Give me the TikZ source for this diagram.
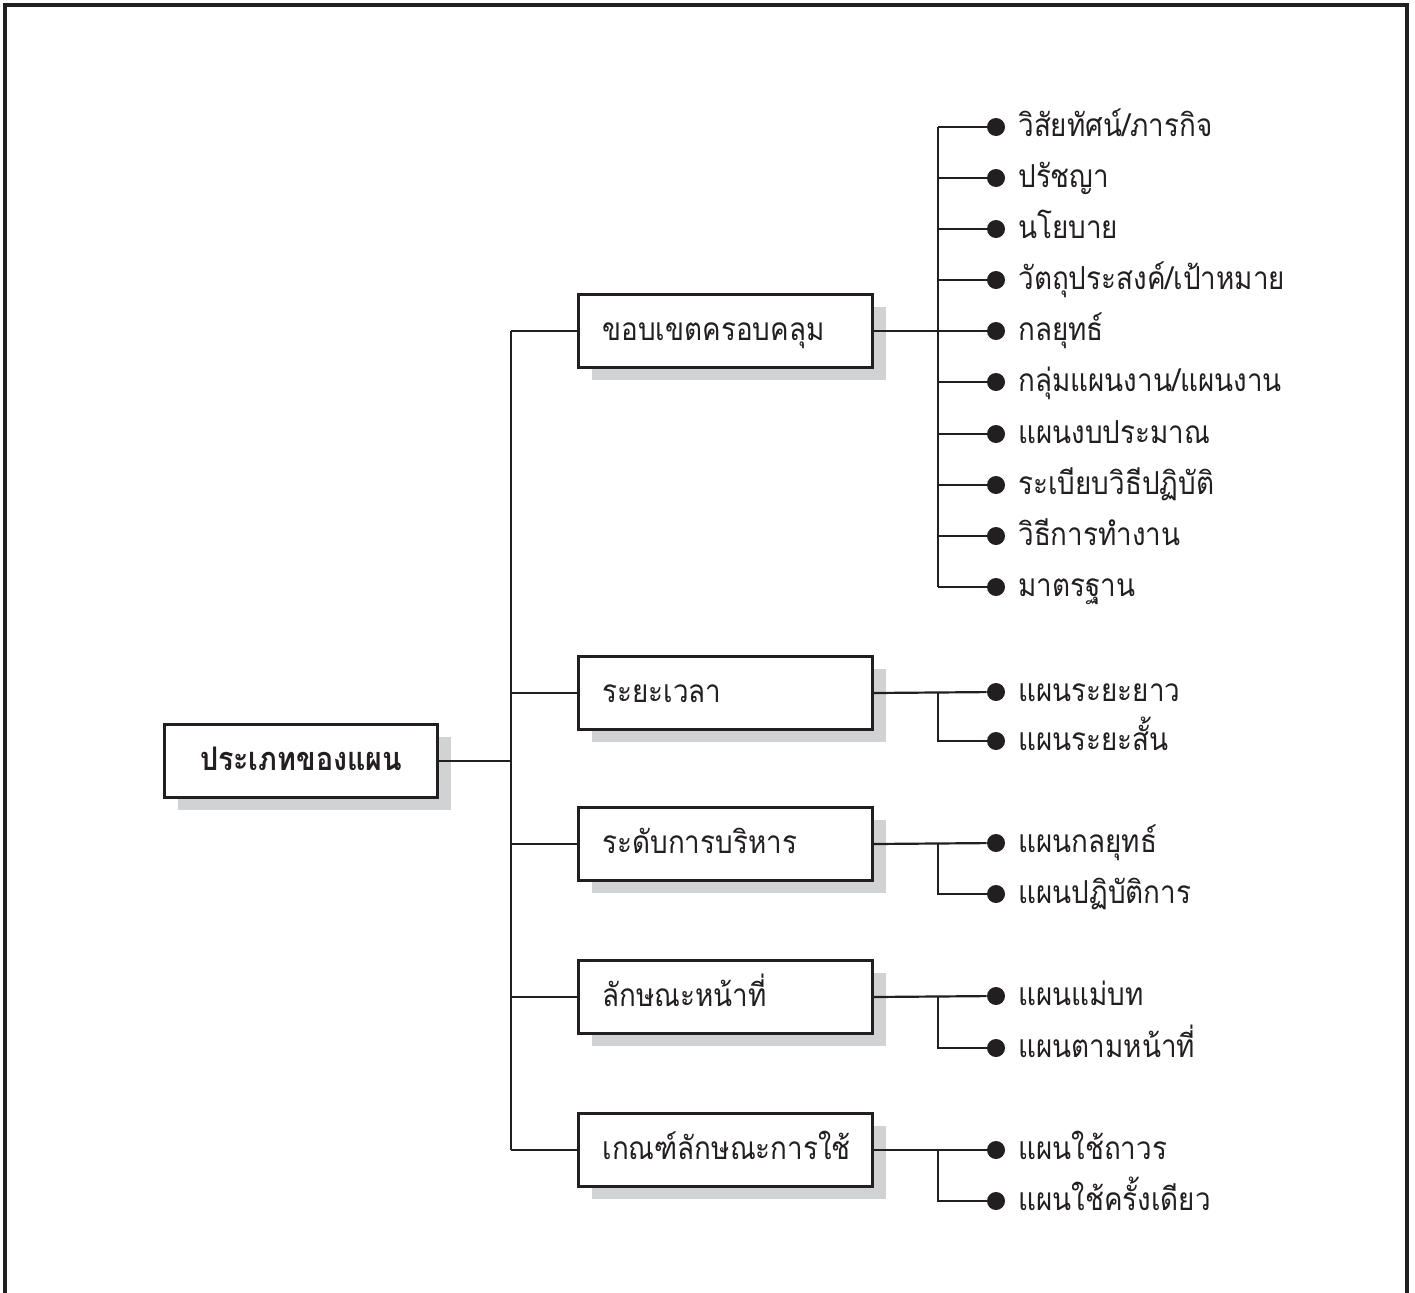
\documentclass[tikz,border=0pt]{standalone}
\usepackage{fontspec}
\usetikzlibrary{shadows}
\newfontfamily\thaifont[Script=Thai,FakeStretch=0.88]{Loma}
\definecolor{ink}{RGB}{35,31,32}
\definecolor{shade}{RGB}{209,210,212}
\begin{document}
\begin{tikzpicture}[x=0.02cm,y=-0.02cm,
  every node/.style={font=\thaifont\fontsize{18}{21}\selectfont, text=ink},
  catbox/.style={draw=ink, line width=1.5pt, fill=white, rectangle,
    minimum width=5.88cm, minimum height=1.46cm, text width=4.92cm,
    text height=1.05em, text depth=0em,
    inner xsep=0.48cm, align=left,
    drop shadow={shadow xshift=0.27cm, shadow yshift=-0.25cm, fill=shade, opacity=1}},
  mainbox/.style={catbox, minimum width=5.46cm, text width=4.5cm,
    font=\thaifont\bfseries\fontsize{18.5}{21}\selectfont, align=center},
  dot/.style={circle, fill=ink, inner sep=0pt, minimum size=0.36cm},
  leaf/.style={anchor=west, inner sep=0pt, text height=1.05em, text depth=0em},
  conn/.style={draw=ink, line width=1.25pt}
]
\useasboundingbox (0,0) rectangle (1415,1292);
% frame
\draw[ink, line width=2pt] (5,1300) -- (5,5) -- (1407,5) -- (1407,1300);

% main box
\node[mainbox] (main) at (301,761) {ประเภทของแผน};

% category boxes
\node[catbox] (b1) at (725.5,331) {ขอบเขตครอบคลุม};
\node[catbox] (b2) at (725.5,693) {ระยะเวลา};
\node[catbox] (b3) at (725.5,844) {ระดับการบริหาร};
\node[catbox] (b4) at (725.5,997) {ลักษณะหน้าที่};
\node[catbox] (b5) at (725.5,1150) {เกณฑ์ลักษณะการใช้};

% trunk
\coordinate (t) at (511,0);
\draw[conn] (main.east) -- (main.east -| t);
\draw[conn] (b1.west -| t) -- (b5.west -| t);
\foreach \b in {b1,b2,b3,b4,b5}{
  \draw[conn] (\b.west -| t) -- (\b.west);
}

% sub junction x
\coordinate (j) at (938,0);

% group 1 leaves
\foreach \i/\yy/\txt in {1/127/{วิสัยทัศน์/ภารกิจ}, 2/178/{ปรัชญา}, 3/229/{นโยบาย},
  4/280/{วัตถุประสงค์/เป้าหมาย}, 5/331/{กลยุทธ์}, 6/382/{กลุ่มแผนงาน/แผนงาน},
  7/434/{แผนงบประมาณ}, 8/485/{ระเบียบวิธีปฏิบัติ}, 9/536/{วิธีการทำงาน}, 10/587/{มาตรฐาน}}{
  \node[dot] (a\i) at (996,\yy) {};
  \node[leaf] (ta\i) at (1018,\yy) {\txt};
  \draw[conn] (a\i -| j) -- (a\i);
}
\draw[conn] (b1.east) -- (b1.east -| j);
\draw[conn] (a1 -| j) -- (a10 -| j);

% groups 2-5
\foreach \g/\ya/\yb/\ta/\tb in {2/692/741/{แผนระยะยาว}/{แผนระยะสั้น},
  3/843/894/{แผนกลยุทธ์}/{แผนปฏิบัติการ},
  4/996/1048/{แผนแม่บท}/{แผนตามหน้าที่},
  5/1150/1201/{แผนใช้ถาวร}/{แผนใช้ครั้งเดียว}}{
  \node[dot] (c\g a) at (996,\ya) {};
  \node[dot] (c\g b) at (996,\yb) {};
  \node[leaf] (tc\g a) at (1018,\ya) {\ta};
  \node[leaf] (tc\g b) at (1018,\yb) {\tb};
  \draw[conn] (b\g.east) -- (c\g a);
  \draw[conn] (c\g a -| j) -- (c\g b -| j) -- (c\g b);
}
\end{tikzpicture}
\end{document}
